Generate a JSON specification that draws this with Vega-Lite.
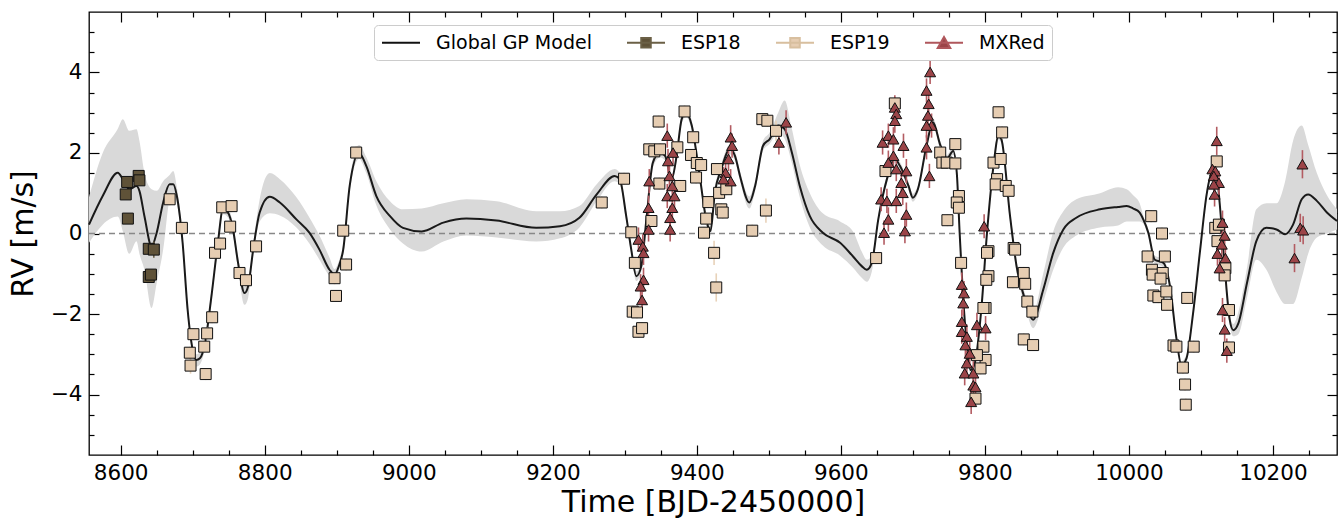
{
"$schema": "https://vega.github.io/schema/vega-lite/v6.json",
"width": 1248, "height": 443,
"autosize": "none",
"padding": {"left": 89, "top": 12, "right": 1, "bottom": 66},
"config": {
  "view": {"stroke": "#000000", "strokeWidth": 1.3},
  "font": "DejaVu Sans",
  "axis": {"grid": false, "domain": false, "tickColor": "#000000", "tickWidth": 1.2, "labelFont": "DejaVu Sans", "labelFontSize": 21.5, "labelColor": "#000000", "titleFont": "DejaVu Sans", "titleFontSize": 30, "titleFontWeight": "normal", "titleColor": "#000000", "labelFlush": false}
},
"datasets": {
"gp": [
{"t":8556,"gp":0.22,"lo":-0.23,"hi":0.9},{"t":8575,"gp":0.93,"lo":0.22,"hi":2.0},{"t":8596,"gp":1.51,"lo":0.42,"hi":2.6},{"t":8603,"gp":1.35,"lo":0.05,"hi":2.84},{"t":8612,"gp":1.1,"lo":-0.5,"hi":2.55},{"t":8622,"gp":1.18,"lo":-0.19,"hi":2.59},{"t":8626,"gp":1.06,"lo":-0.5,"hi":2.3},{"t":8633,"gp":0.43,"lo":-0.9,"hi":1.5},{"t":8643,"gp":-0.32,"lo":-1.85,"hi":1.1},{"t":8650,"gp":0.02,"lo":-1.23,"hi":1.06},{"t":8659,"gp":0.77,"lo":-0.4,"hi":1.3},{"t":8668,"gp":1.22,"lo":0.85,"hi":1.45},{"t":8673,"gp":1.22,"lo":1.0,"hi":1.55},{"t":8678,"gp":0.93,"lo":0.75,"hi":1.15},{"t":8686,"gp":-0.23,"lo":-0.38,"hi":-0.08},{"t":8693,"gp":-1.9,"lo":-2.05,"hi":-1.75},{"t":8700,"gp":-2.89,"lo":-3.02,"hi":-2.76},{"t":8705,"gp":-3.14,"lo":-3.3,"hi":-3.0},{"t":8710,"gp":-3.1,"lo":-3.25,"hi":-2.95},{"t":8717,"gp":-2.73,"lo":-2.86,"hi":-2.6},{"t":8726,"gp":-1.56,"lo":-1.7,"hi":-1.42},{"t":8735,"gp":-0.23,"lo":-0.36,"hi":-0.1},{"t":8742,"gp":0.6,"lo":0.48,"hi":0.72},{"t":8749,"gp":0.52,"lo":0.4,"hi":0.65},{"t":8756,"gp":0.1,"lo":-0.03,"hi":0.23},{"t":8763,"gp":-0.73,"lo":-0.9,"hi":-0.58},{"t":8772,"gp":-1.48,"lo":-1.77,"hi":-1.33},{"t":8777,"gp":-1.31,"lo":-1.6,"hi":-1.17},{"t":8784,"gp":-0.4,"lo":-0.55,"hi":-0.25},{"t":8793,"gp":0.52,"lo":0.3,"hi":0.85},{"t":8807,"gp":0.91,"lo":0.5,"hi":1.5},{"t":8821,"gp":0.77,"lo":0.45,"hi":1.35},{"t":8844,"gp":0.35,"lo":0.15,"hi":0.9},{"t":8862,"gp":0.02,"lo":-0.25,"hi":0.4},{"t":8876,"gp":-0.4,"lo":-0.65,"hi":-0.05},{"t":8890,"gp":-0.9,"lo":-1.05,"hi":-0.6},{"t":8897,"gp":-1.02,"lo":-1.15,"hi":-0.88},{"t":8903,"gp":-0.81,"lo":-0.94,"hi":-0.68},{"t":8909,"gp":-0.4,"lo":-0.53,"hi":-0.27},{"t":8918,"gp":1.18,"lo":1.05,"hi":1.31},{"t":8931,"gp":2.0,"lo":1.85,"hi":2.2},{"t":8941,"gp":1.68,"lo":1.5,"hi":1.9},{"t":8955,"gp":0.93,"lo":0.7,"hi":1.3},{"t":8974,"gp":0.43,"lo":0.1,"hi":0.8},{"t":8992,"gp":0.14,"lo":-0.25,"hi":0.6},{"t":9018,"gp":0.05,"lo":-0.45,"hi":0.62},{"t":9048,"gp":0.27,"lo":-0.2,"hi":0.75},{"t":9080,"gp":0.37,"lo":-0.05,"hi":0.85},{"t":9122,"gp":0.32,"lo":-0.1,"hi":0.8},{"t":9177,"gp":0.14,"lo":-0.2,"hi":0.55},{"t":9210,"gp":0.18,"lo":-0.12,"hi":0.55},{"t":9237,"gp":0.39,"lo":0.15,"hi":0.68},{"t":9261,"gp":0.97,"lo":0.8,"hi":1.22},{"t":9286,"gp":1.43,"lo":1.3,"hi":1.6},{"t":9293,"gp":1.35,"lo":1.22,"hi":1.5},{"t":9302,"gp":0.43,"lo":0.31,"hi":0.55},{"t":9309,"gp":-0.4,"lo":-0.52,"hi":-0.28},{"t":9316,"gp":-1.06,"lo":-1.18,"hi":-0.94},{"t":9323,"gp":-0.81,"lo":-0.93,"hi":-0.69},{"t":9330,"gp":0.35,"lo":0.23,"hi":0.47},{"t":9339,"gp":1.76,"lo":1.64,"hi":1.88},{"t":9349,"gp":2.01,"lo":1.89,"hi":2.13},{"t":9356,"gp":1.93,"lo":1.81,"hi":2.05},{"t":9365,"gp":1.35,"lo":1.23,"hi":1.47},{"t":9372,"gp":1.93,"lo":1.81,"hi":2.05},{"t":9379,"gp":2.84,"lo":2.72,"hi":2.96},{"t":9385,"gp":3.01,"lo":2.89,"hi":3.13},{"t":9393,"gp":2.68,"lo":2.56,"hi":2.8},{"t":9404,"gp":1.43,"lo":1.31,"hi":1.55},{"t":9414,"gp":0.27,"lo":0.15,"hi":0.39},{"t":9419,"gp":0.06,"lo":-0.06,"hi":0.18},{"t":9425,"gp":1.01,"lo":0.89,"hi":1.13},{"t":9434,"gp":1.6,"lo":1.48,"hi":1.72},{"t":9446,"gp":2.09,"lo":1.97,"hi":2.21},{"t":9453,"gp":1.93,"lo":1.81,"hi":2.05},{"t":9460,"gp":1.43,"lo":1.31,"hi":1.55},{"t":9473,"gp":0.77,"lo":0.62,"hi":0.92},{"t":9481,"gp":1.18,"lo":1.05,"hi":1.31},{"t":9492,"gp":2.18,"lo":2.06,"hi":2.3},{"t":9501,"gp":2.34,"lo":2.22,"hi":2.5},{"t":9513,"gp":2.68,"lo":2.5,"hi":3.0},{"t":9522,"gp":2.59,"lo":2.35,"hi":3.3},{"t":9532,"gp":2.01,"lo":1.75,"hi":2.6},{"t":9543,"gp":1.18,"lo":0.9,"hi":1.7},{"t":9557,"gp":0.43,"lo":0.15,"hi":1.0},{"t":9575,"gp":0.02,"lo":-0.3,"hi":0.5},{"t":9599,"gp":-0.23,"lo":-0.55,"hi":0.3},{"t":9617,"gp":-0.57,"lo":-0.85,"hi":0.05},{"t":9629,"gp":-0.81,"lo":-1.1,"hi":-0.45},{"t":9636,"gp":-0.9,"lo":-1.2,"hi":-0.65},{"t":9643,"gp":-0.73,"lo":-0.95,"hi":-0.55},{"t":9652,"gp":0.35,"lo":0.25,"hi":0.45},{"t":9664,"gp":1.35,"lo":1.25,"hi":1.45},{"t":9675,"gp":1.85,"lo":1.75,"hi":1.95},{"t":9682,"gp":1.68,"lo":1.58,"hi":1.78},{"t":9694,"gp":1.18,"lo":1.08,"hi":1.28},{"t":9700,"gp":0.89,"lo":0.79,"hi":0.99},{"t":9707,"gp":1.1,"lo":1.0,"hi":1.2},{"t":9719,"gp":2.18,"lo":2.08,"hi":2.28},{"t":9728,"gp":2.76,"lo":2.66,"hi":2.86},{"t":9738,"gp":2.2,"lo":2.1,"hi":2.3},{"t":9747,"gp":1.85,"lo":1.75,"hi":1.95},{"t":9756,"gp":2.05,"lo":1.95,"hi":2.15},{"t":9761,"gp":1.51,"lo":1.41,"hi":1.61},{"t":9765,"gp":0.02,"lo":-0.08,"hi":0.12},{"t":9770,"gp":-1.65,"lo":-1.75,"hi":-1.55},{"t":9775,"gp":-2.73,"lo":-2.83,"hi":-2.63},{"t":9780,"gp":-3.39,"lo":-3.5,"hi":-3.29},{"t":9786,"gp":-3.22,"lo":-3.32,"hi":-3.12},{"t":9795,"gp":-1.9,"lo":-2.0,"hi":-1.8},{"t":9803,"gp":0.02,"lo":-0.08,"hi":0.12},{"t":9812,"gp":1.68,"lo":1.58,"hi":1.78},{"t":9819,"gp":2.43,"lo":2.33,"hi":2.53},{"t":9823,"gp":2.34,"lo":2.24,"hi":2.44},{"t":9835,"gp":0.43,"lo":0.28,"hi":0.58},{"t":9844,"gp":-0.81,"lo":-0.96,"hi":-0.66},{"t":9856,"gp":-1.65,"lo":-1.8,"hi":-1.5},{"t":9867,"gp":-2.14,"lo":-2.35,"hi":-1.95},{"t":9881,"gp":-1.4,"lo":-1.7,"hi":-1.0},{"t":9895,"gp":-0.48,"lo":-0.9,"hi":0.05},{"t":9909,"gp":0.1,"lo":-0.35,"hi":0.55},{"t":9927,"gp":0.39,"lo":-0.05,"hi":0.85},{"t":9960,"gp":0.6,"lo":0.15,"hi":1.0},{"t":9985,"gp":0.66,"lo":0.2,"hi":1.15},{"t":9997,"gp":0.68,"lo":0.3,"hi":1.1},{"t":10006,"gp":0.62,"lo":0.3,"hi":0.95},{"t":10015,"gp":0.52,"lo":0.3,"hi":0.75},{"t":10020,"gp":0.35,"lo":0.25,"hi":0.45},{"t":10027,"gp":0.02,"lo":-0.08,"hi":0.12},{"t":10036,"gp":-0.65,"lo":-0.75,"hi":-0.55},{"t":10048,"gp":-0.73,"lo":-0.83,"hi":-0.63},{"t":10057,"gp":-1.3,"lo":-1.4,"hi":-1.2},{"t":10066,"gp":-2.6,"lo":-2.7,"hi":-2.5},{"t":10073,"gp":-3.27,"lo":-3.37,"hi":-3.17},{"t":10080,"gp":-3.1,"lo":-3.2,"hi":-3.0},{"t":10089,"gp":-2.0,"lo":-2.1,"hi":-1.9},{"t":10099,"gp":-0.4,"lo":-0.5,"hi":-0.3},{"t":10108,"gp":0.97,"lo":0.87,"hi":1.07},{"t":10117,"gp":1.58,"lo":1.48,"hi":1.68},{"t":10122,"gp":1.47,"lo":1.37,"hi":1.57},{"t":10126,"gp":0.77,"lo":0.67,"hi":0.87},{"t":10133,"gp":-0.82,"lo":-0.92,"hi":-0.72},{"t":10140,"gp":-2.14,"lo":-2.26,"hi":-2.02},{"t":10145,"gp":-2.4,"lo":-2.55,"hi":-2.25},{"t":10152,"gp":-2.23,"lo":-2.5,"hi":-1.95},{"t":10164,"gp":-1.23,"lo":-1.6,"hi":-0.85},{"t":10177,"gp":-0.19,"lo":-0.65,"hi":0.6},{"t":10191,"gp":0.14,"lo":-0.9,"hi":0.75},{"t":10205,"gp":0.1,"lo":-1.45,"hi":0.75},{"t":10217,"gp":-0.02,"lo":-1.75,"hi":1.3},{"t":10228,"gp":0.22,"lo":-1.75,"hi":2.3},{"t":10240,"gp":0.85,"lo":-1.1,"hi":2.68},{"t":10249,"gp":0.97,"lo":-0.5,"hi":2.2},{"t":10261,"gp":0.81,"lo":-0.1,"hi":1.5},{"t":10275,"gp":0.52,"lo":0.0,"hi":0.95},{"t":10289,"gp":0.31,"lo":0.1,"hi":0.6}
],
"obs": [
{"s":"ESP18","t":8609,"rv":1.28,"e":0.12},{"s":"ESP18","t":8607,"rv":0.97,"e":0.12},{"s":"ESP18","t":8610,"rv":0.37,"e":0.12},{"s":"ESP18","t":8625,"rv":1.43,"e":0.12},{"s":"ESP18","t":8626,"rv":1.32,"e":0.12},{"s":"ESP18","t":8639,"rv":-0.38,"e":0.12},{"s":"ESP18","t":8646,"rv":-0.4,"e":0.2},{"s":"ESP18","t":8639,"rv":-1.08,"e":0.12},{"s":"ESP18","t":8642,"rv":-1.02,"e":0.12},
{"s":"ESP19","t":8668,"rv":0.85,"e":0.15},{"s":"ESP19","t":8685,"rv":0.14,"e":0.15},{"s":"ESP19","t":8701,"rv":-2.5,"e":0.15},{"s":"ESP19","t":8696,"rv":-2.96,"e":0.15},{"s":"ESP19","t":8697,"rv":-3.28,"e":0.2},{"s":"ESP19","t":8718,"rv":-3.49,"e":0.15},{"s":"ESP19","t":8716,"rv":-2.81,"e":0.15},{"s":"ESP19","t":8720,"rv":-2.48,"e":0.15},{"s":"ESP19","t":8727,"rv":-2.08,"e":0.15},{"s":"ESP19","t":8731,"rv":-0.48,"e":0.15},{"s":"ESP19","t":8738,"rv":-0.25,"e":0.15},{"s":"ESP19","t":8741,"rv":0.65,"e":0.15},{"s":"ESP19","t":8754,"rv":0.68,"e":0.15},{"s":"ESP19","t":8752,"rv":0.17,"e":0.15},{"s":"ESP19","t":8765,"rv":-0.98,"e":0.15},{"s":"ESP19","t":8774,"rv":-1.16,"e":0.15},{"s":"ESP19","t":8788,"rv":-0.32,"e":0.15},{"s":"ESP19","t":8897,"rv":-1.11,"e":0.15},{"s":"ESP19","t":8899,"rv":-1.55,"e":0.15},{"s":"ESP19","t":8913,"rv":-0.77,"e":0.15},{"s":"ESP19","t":8909,"rv":0.07,"e":0.15},{"s":"ESP19","t":8927,"rv":2.01,"e":0.15},
{"s":"ESP19","t":9268,"rv":0.77,"e":0.15},{"s":"ESP19","t":9299,"rv":1.36,"e":0.15},{"s":"ESP19","t":9309,"rv":0.03,"e":0.15},{"s":"ESP19","t":9314,"rv":-0.73,"e":0.15},{"s":"ESP19","t":9311,"rv":-1.94,"e":0.15},{"s":"ESP19","t":9317,"rv":-1.96,"e":0.15},{"s":"ESP19","t":9319,"rv":-2.44,"e":0.15},{"s":"ESP19","t":9324,"rv":-2.35,"e":0.15},{"s":"ESP19","t":9337,"rv":0.31,"e":0.15},{"s":"ESP19","t":9334,"rv":2.09,"e":0.15},{"s":"ESP19","t":9341,"rv":2.04,"e":0.15},{"s":"ESP19","t":9349,"rv":2.09,"e":0.15},{"s":"ESP19","t":9347,"rv":2.78,"e":0.15},{"s":"ESP19","t":9348,"rv":1.24,"e":0.15},{"s":"ESP19","t":9373,"rv":2.14,"e":0.15},{"s":"ESP19","t":9377,"rv":1.18,"e":0.15},{"s":"ESP19","t":9383,"rv":3.03,"e":0.15},{"s":"ESP19","t":9395,"rv":2.39,"e":0.15},{"s":"ESP19","t":9392,"rv":1.95,"e":0.15},{"s":"ESP19","t":9400,"rv":1.75,"e":0.15},{"s":"ESP19","t":9406,"rv":1.7,"e":0.15},{"s":"ESP19","t":9399,"rv":1.39,"e":0.15},{"s":"ESP19","t":9416,"rv":0.78,"e":0.15},{"s":"ESP19","t":9413,"rv":0.37,"e":0.15},{"s":"ESP19","t":9410,"rv":0.02,"e":0.15},{"s":"ESP19","t":9424,"rv":-0.48,"e":0.3},{"s":"ESP19","t":9427,"rv":-1.34,"e":0.35},{"s":"ESP19","t":9428,"rv":1.6,"e":0.15},{"s":"ESP19","t":9431,"rv":1.01,"e":0.15},{"s":"ESP19","t":9434,"rv":0.6,"e":0.15},{"s":"ESP19","t":9436,"rv":0.52,"e":0.15},{"s":"ESP19","t":9441,"rv":1.1,"e":0.15},{"s":"ESP19","t":9477,"rv":0.07,"e":0.15},{"s":"ESP19","t":9496,"rv":0.57,"e":0.3},{"s":"ESP19","t":9491,"rv":2.84,"e":0.15},{"s":"ESP19","t":9498,"rv":2.8,"e":0.15},{"s":"ESP19","t":9510,"rv":2.55,"e":0.25},{"s":"ESP19","t":9649,"rv":-0.61,"e":0.15},
{"s":"ESP19","t":9675,"rv":3.23,"e":0.15},{"s":"ESP19","t":9662,"rv":1.55,"e":0.15},{"s":"ESP19","t":9738,"rv":2.01,"e":0.15},{"s":"ESP19","t":9741,"rv":1.76,"e":0.15},{"s":"ESP19","t":9747,"rv":1.76,"e":0.15},{"s":"ESP19","t":9759,"rv":2.22,"e":0.15},{"s":"ESP19","t":9759,"rv":1.74,"e":0.15},{"s":"ESP19","t":9748,"rv":0.33,"e":0.15},{"s":"ESP19","t":9764,"rv":0.93,"e":0.15},{"s":"ESP19","t":9761,"rv":0.77,"e":0.15},{"s":"ESP19","t":9764,"rv":0.64,"e":0.15},{"s":"ESP19","t":9767,"rv":-0.73,"e":0.15},
{"s":"ESP19","t":9819,"rv":3.01,"e":0.15},{"s":"ESP19","t":9824,"rv":2.51,"e":0.15},{"s":"ESP19","t":9812,"rv":1.76,"e":0.15},{"s":"ESP19","t":9822,"rv":1.85,"e":0.15},{"s":"ESP19","t":9817,"rv":1.35,"e":0.15},{"s":"ESP19","t":9815,"rv":1.22,"e":0.15},{"s":"ESP19","t":9829,"rv":1.18,"e":0.15},{"s":"ESP19","t":9833,"rv":1.06,"e":0.15},{"s":"ESP19","t":9805,"rv":-0.44,"e":0.15},{"s":"ESP19","t":9803,"rv":-0.48,"e":0.15},{"s":"ESP19","t":9805,"rv":-1.06,"e":0.15},{"s":"ESP19","t":9802,"rv":-1.15,"e":0.15},{"s":"ESP19","t":9801,"rv":-1.85,"e":0.15},{"s":"ESP19","t":9798,"rv":-1.85,"e":0.15},{"s":"ESP19","t":9798,"rv":-2.81,"e":0.15},{"s":"ESP19","t":9801,"rv":-3.14,"e":0.15},{"s":"ESP19","t":9794,"rv":-3.35,"e":0.15},{"s":"ESP19","t":9789,"rv":-3.02,"e":0.15},{"s":"ESP19","t":9787,"rv":-4.1,"e":0.15},
{"s":"ESP19","t":9840,"rv":-0.36,"e":0.15},{"s":"ESP19","t":9842,"rv":-0.4,"e":0.15},{"s":"ESP19","t":9854,"rv":-0.98,"e":0.15},{"s":"ESP19","t":9839,"rv":-1.21,"e":0.15},{"s":"ESP19","t":9856,"rv":-1.25,"e":0.15},{"s":"ESP19","t":9859,"rv":-1.69,"e":0.15},{"s":"ESP19","t":9866,"rv":-1.94,"e":0.15},{"s":"ESP19","t":9854,"rv":-2.63,"e":0.15},{"s":"ESP19","t":9867,"rv":-2.77,"e":0.15},
{"s":"ESP19","t":10031,"rv":0.43,"e":0.15},{"s":"ESP19","t":10046,"rv":0.0,"e":0.15},{"s":"ESP19","t":10026,"rv":-0.57,"e":0.15},{"s":"ESP19","t":10050,"rv":-0.57,"e":0.15},{"s":"ESP19","t":10032,"rv":-0.9,"e":0.15},{"s":"ESP19","t":10033,"rv":-1.02,"e":0.15},{"s":"ESP19","t":10047,"rv":-0.98,"e":0.15},{"s":"ESP19","t":10044,"rv":-1.12,"e":0.15},{"s":"ESP19","t":10034,"rv":-1.54,"e":0.15},{"s":"ESP19","t":10041,"rv":-1.58,"e":0.15},{"s":"ESP19","t":10052,"rv":-1.44,"e":0.15},{"s":"ESP19","t":10053,"rv":-1.77,"e":0.15},{"s":"ESP19","t":10081,"rv":-1.6,"e":0.15},{"s":"ESP19","t":10062,"rv":-2.78,"e":0.15},{"s":"ESP19","t":10066,"rv":-2.81,"e":0.15},{"s":"ESP19","t":10090,"rv":-2.81,"e":0.15},{"s":"ESP19","t":10075,"rv":-3.33,"e":0.15},{"s":"ESP19","t":10078,"rv":-3.75,"e":0.15},{"s":"ESP19","t":10079,"rv":-4.25,"e":0.15},{"s":"ESP19","t":10122,"rv":1.79,"e":0.15},{"s":"ESP19","t":10120,"rv":0.14,"e":0.15},{"s":"ESP19","t":10123,"rv":-0.19,"e":0.15},{"s":"ESP19","t":10125,"rv":0.22,"e":0.15},{"s":"ESP19","t":10134,"rv":-0.86,"e":0.15},{"s":"ESP19","t":10133,"rv":-1.04,"e":0.15},{"s":"ESP19","t":10139,"rv":-1.9,"e":0.15},{"s":"ESP19","t":10139,"rv":-2.83,"e":0.15},
{"s":"MXRed","t":9319,"rv":-0.15,"e":0.3},{"s":"MXRed","t":9325,"rv":-0.32,"e":0.3},{"s":"MXRed","t":9326,"rv":-0.48,"e":0.3},{"s":"MXRed","t":9326,"rv":-1.15,"e":0.3},{"s":"MXRed","t":9322,"rv":-1.31,"e":0.3},{"s":"MXRed","t":9324,"rv":-1.65,"e":0.3},{"s":"MXRed","t":9333,"rv":0.1,"e":0.3},{"s":"MXRed","t":9333,"rv":0.64,"e":0.3},{"s":"MXRed","t":9334,"rv":1.3,"e":0.3},{"s":"MXRed","t":9359,"rv":2.43,"e":0.3},{"s":"MXRed","t":9360,"rv":1.8,"e":0.3},{"s":"MXRed","t":9367,"rv":2.01,"e":0.3},{"s":"MXRed","t":9362,"rv":1.43,"e":0.3},{"s":"MXRed","t":9366,"rv":1.18,"e":0.3},{"s":"MXRed","t":9359,"rv":0.93,"e":0.3},{"s":"MXRed","t":9369,"rv":0.93,"e":0.3},{"s":"MXRed","t":9366,"rv":0.64,"e":0.3},{"s":"MXRed","t":9363,"rv":0.39,"e":0.3},{"s":"MXRed","t":9363,"rv":0.1,"e":0.3},{"s":"MXRed","t":9447,"rv":2.39,"e":0.3},{"s":"MXRed","t":9449,"rv":2.18,"e":0.3},{"s":"MXRed","t":9444,"rv":1.85,"e":0.3},{"s":"MXRed","t":9440,"rv":1.51,"e":0.3},{"s":"MXRed","t":9447,"rv":1.3,"e":0.3},{"s":"MXRed","t":9437,"rv":1.35,"e":0.3},{"s":"MXRed","t":9514,"rv":2.26,"e":0.3},{"s":"MXRed","t":9524,"rv":2.76,"e":0.3},
{"s":"MXRed","t":9675,"rv":3.13,"e":0.3},{"s":"MXRed","t":9677,"rv":2.97,"e":0.3},{"s":"MXRed","t":9675,"rv":2.8,"e":0.3},{"s":"MXRed","t":9658,"rv":2.26,"e":0.3},{"s":"MXRed","t":9666,"rv":2.43,"e":0.3},{"s":"MXRed","t":9673,"rv":2.34,"e":0.3},{"s":"MXRed","t":9687,"rv":2.18,"e":0.3},{"s":"MXRed","t":9673,"rv":1.93,"e":0.3},{"s":"MXRed","t":9666,"rv":1.76,"e":0.3},{"s":"MXRed","t":9677,"rv":1.6,"e":0.3},{"s":"MXRed","t":9691,"rv":1.55,"e":0.3},{"s":"MXRed","t":9684,"rv":1.26,"e":0.3},{"s":"MXRed","t":9686,"rv":1.01,"e":0.3},{"s":"MXRed","t":9656,"rv":0.85,"e":0.3},{"s":"MXRed","t":9664,"rv":0.81,"e":0.3},{"s":"MXRed","t":9677,"rv":0.81,"e":0.3},{"s":"MXRed","t":9666,"rv":0.35,"e":0.3},{"s":"MXRed","t":9691,"rv":0.47,"e":0.3},{"s":"MXRed","t":9689,"rv":0.06,"e":0.3},{"s":"MXRed","t":9660,"rv":0.02,"e":0.3},
{"s":"MXRed","t":9724,"rv":4.01,"e":0.3},{"s":"MXRed","t":9719,"rv":3.55,"e":0.3},{"s":"MXRed","t":9722,"rv":3.22,"e":0.3},{"s":"MXRed","t":9721,"rv":2.93,"e":0.3},{"s":"MXRed","t":9726,"rv":2.68,"e":0.3},{"s":"MXRed","t":9719,"rv":2.68,"e":0.3},{"s":"MXRed","t":9719,"rv":2.14,"e":0.3},{"s":"MXRed","t":9723,"rv":1.43,"e":0.3},
{"s":"MXRed","t":9768,"rv":-1.27,"e":0.3},{"s":"MXRed","t":9771,"rv":-1.48,"e":0.3},{"s":"MXRed","t":9770,"rv":-1.73,"e":0.3},{"s":"MXRed","t":9768,"rv":-2.19,"e":0.3},{"s":"MXRed","t":9768,"rv":-2.44,"e":0.3},{"s":"MXRed","t":9775,"rv":-2.56,"e":0.3},{"s":"MXRed","t":9773,"rv":-2.77,"e":0.3},{"s":"MXRed","t":9789,"rv":-2.27,"e":0.3},{"s":"MXRed","t":9801,"rv":-2.35,"e":0.3},{"s":"MXRed","t":9779,"rv":-2.98,"e":0.3},{"s":"MXRed","t":9775,"rv":-3.22,"e":0.3},{"s":"MXRed","t":9772,"rv":-3.47,"e":0.3},{"s":"MXRed","t":9784,"rv":-3.47,"e":0.3},{"s":"MXRed","t":9784,"rv":-3.77,"e":0.3},{"s":"MXRed","t":9787,"rv":-3.81,"e":0.3},{"s":"MXRed","t":9781,"rv":-4.18,"e":0.3},{"s":"MXRed","t":9799,"rv":0.18,"e":0.3},
{"s":"MXRed","t":10122,"rv":2.3,"e":0.35},{"s":"MXRed","t":10116,"rv":1.6,"e":0.3},{"s":"MXRed","t":10120,"rv":1.55,"e":0.3},{"s":"MXRed","t":10118,"rv":1.43,"e":0.3},{"s":"MXRed","t":10125,"rv":1.26,"e":0.3},{"s":"MXRed","t":10118,"rv":1.22,"e":0.3},{"s":"MXRed","t":10119,"rv":0.97,"e":0.3},{"s":"MXRed","t":10130,"rv":0.27,"e":0.3},{"s":"MXRed","t":10133,"rv":-0.05,"e":0.3},{"s":"MXRed","t":10129,"rv":-0.27,"e":0.3},{"s":"MXRed","t":10123,"rv":-0.5,"e":0.3},{"s":"MXRed","t":10134,"rv":-0.61,"e":0.3},{"s":"MXRed","t":10126,"rv":-0.86,"e":0.3},{"s":"MXRed","t":10130,"rv":-1.9,"e":0.3},{"s":"MXRed","t":10133,"rv":-2.38,"e":0.3},{"s":"MXRed","t":10136,"rv":-2.91,"e":0.3},{"s":"MXRed","t":10241,"rv":1.72,"e":0.35},{"s":"MXRed","t":10238,"rv":0.14,"e":0.35},{"s":"MXRed","t":10242,"rv":0.08,"e":0.35},{"s":"MXRed","t":10230,"rv":-0.61,"e":0.35}
]
},
"resolve": {"axis": {"x": "independent", "y": "independent"}},
"layer": [
{
  "data": {"name": "gp"},
  "mark": {"type": "area", "color": "#d9d9d9", "opacity": 1, "interpolate": "monotone"},
  "encoding": {
    "x": {"field": "t", "type": "quantitative", "scale": {"domain": [8556, 10289], "nice": false, "zero": false},
      "axis": {"orient": "bottom", "values": [8600, 8800, 9000, 9200, 9400, 9600, 9800, 10000, 10200], "format": "d", "tickSize": -10, "labelPadding": 17, "title": "Time [BJD-2450000]", "titlePadding": 4}},
    "y": {"field": "lo", "type": "quantitative", "scale": {"domain": [-5.5, 5.5], "nice": false, "zero": false},
      "axis": {"orient": "left", "values": [-4, -2, 0, 2, 4], "tickSize": -10, "labelPadding": 17, "title": "RV [m/s]", "titlePadding": 12}},
    "y2": {"field": "hi"}
  }
},
{
  "data": {"values": [{}]},
  "mark": {"type": "rule", "color": "#888888", "strokeDash": [6, 4], "strokeWidth": 1.5},
  "encoding": {
    "x": {"datum": 8556, "type": "quantitative", "axis": {"orient": "top", "values": [8600, 8800, 9000, 9200, 9400, 9600, 9800, 10000, 10200], "tickSize": -10, "labels": false, "title": null}},
    "x2": {"datum": 10289},
    "y": {"datum": 0, "type": "quantitative", "axis": {"orient": "right", "values": [-4, -2, 0, 2, 4], "tickSize": -10, "labels": false, "title": null}}
  }
},
{
  "data": {"name": "gp"},
  "mark": {"type": "line", "color": "#1a1a1a", "strokeWidth": 2, "interpolate": "monotone"},
  "encoding": {
    "x": {"field": "t", "type": "quantitative", "axis": {"orient": "bottom", "values": [8650,8700,8750,8850,8900,8950,9050,9100,9150,9250,9300,9350,9450,9500,9550,9650,9700,9750,9850,9900,9950,10050,10100,10150,10250], "tickSize": -5, "labels": false, "title": null}},
    "y": {"field": "gp", "type": "quantitative", "axis": {"orient": "left", "values": [-5,-4.5,-3.5,-3,-2.5,-1.5,-1,-0.5,0.5,1,1.5,2.5,3,3.5,4.5,5], "tickSize": -5, "labels": false, "title": null}}
  }
},
{
  "data": {"name": "obs"},
  "transform": [{"filter": "datum.s === 'ESP18'"}],
  "mark": {"type": "errorbar", "ticks": false, "thickness": 1.6, "color": "#6b6046"},
  "encoding": {
    "x": {"field": "t", "type": "quantitative", "axis": null},
    "y": {"field": "rv", "type": "quantitative", "axis": null},
    "yError": {"field": "e"}
  }
},
{
  "data": {"name": "obs"},
  "transform": [{"filter": "datum.s === 'ESP19'"}],
  "mark": {"type": "errorbar", "ticks": false, "thickness": 1.6, "color": "#e8d2b9"},
  "encoding": {
    "x": {"field": "t", "type": "quantitative", "axis": null},
    "y": {"field": "rv", "type": "quantitative", "axis": null},
    "yError": {"field": "e"}
  }
},
{
  "data": {"name": "obs"},
  "transform": [{"filter": "datum.s === 'MXRed'"}],
  "mark": {"type": "errorbar", "ticks": false, "thickness": 1.6, "color": "#b35c62"},
  "encoding": {
    "x": {"field": "t", "type": "quantitative", "axis": null},
    "y": {"field": "rv", "type": "quantitative", "axis": null},
    "yError": {"field": "e"}
  }
},
{
  "data": {"name": "obs"},
  "mark": {"type": "point", "filled": true, "opacity": 1, "strokeWidth": 1},
  "encoding": {
    "x": {"field": "t", "type": "quantitative", "axis": {"orient": "top", "values": [8650,8700,8750,8850,8900,8950,9050,9100,9150,9250,9300,9350,9450,9500,9550,9650,9700,9750,9850,9900,9950,10050,10100,10150,10250], "tickSize": -5, "labels": false, "title": null}},
    "y": {"field": "rv", "type": "quantitative", "axis": {"orient": "right", "values": [-5,-4.5,-3.5,-3,-2.5,-1.5,-1,-0.5,0.5,1,1.5,2.5,3,3.5,4.5,5], "tickSize": -5, "labels": false, "title": null}},
    "stroke": {"value": "#111111"},
    "shape": {"field": "s", "type": "nominal", "scale": {"domain": ["ESP18", "ESP19", "MXRed"], "range": ["square", "square", "triangle-up"]}, "legend": null},
    "size": {"field": "s", "type": "nominal", "scale": {"domain": ["ESP18", "ESP19", "MXRed"], "range": [121, 121, 380]}, "legend": null},
    "color": {"field": "s", "type": "nominal",
      "scale": {"domain": ["Global GP Model", "ESP18", "ESP19", "MXRed"], "range": ["#111111", "#5f5238", "#e6cdb2", "#9c4448"]},
      "legend": {"title": null, "orient": "none", "legendX": 285, "legendY": 13, "direction": "horizontal", "columns": 4,
        "labelFont": "DejaVu Sans", "labelFontSize": 19, "labelColor": "#000000",
        "symbolSize": 361, "symbolStrokeWidth": 2, "symbolOpacity": 1, "labelOffset": 34, "columnPadding": 31, "padding": 7,
        "strokeColor": "#cccccc", "fillColor": "#ffffff", "cornerRadius": 4,
        "symbolType": {"expr": "datum.value === 'Global GP Model' ? 'M-1,0H3' : (datum.value === 'MXRed' ? 'M-1,0H3M1,-0.6L1.66,0.55H0.34Z' : 'M-1,0H3M0.5,-0.5H1.5V0.5H0.5Z')"},
        "symbolStrokeColor": {"expr": "datum.value === 'ESP19' ? '#d8bf9f' : (datum.value === 'MXRed' ? '#b0575c' : (datum.value === 'ESP18' ? '#6b6046' : '#111111'))"},
        "symbolFillColor": {"expr": "datum.value === 'ESP19' ? '#e6cdb2' : (datum.value === 'MXRed' ? '#9c4448' : '#5f5238')"}
      }
    }
  }
}
]
}
